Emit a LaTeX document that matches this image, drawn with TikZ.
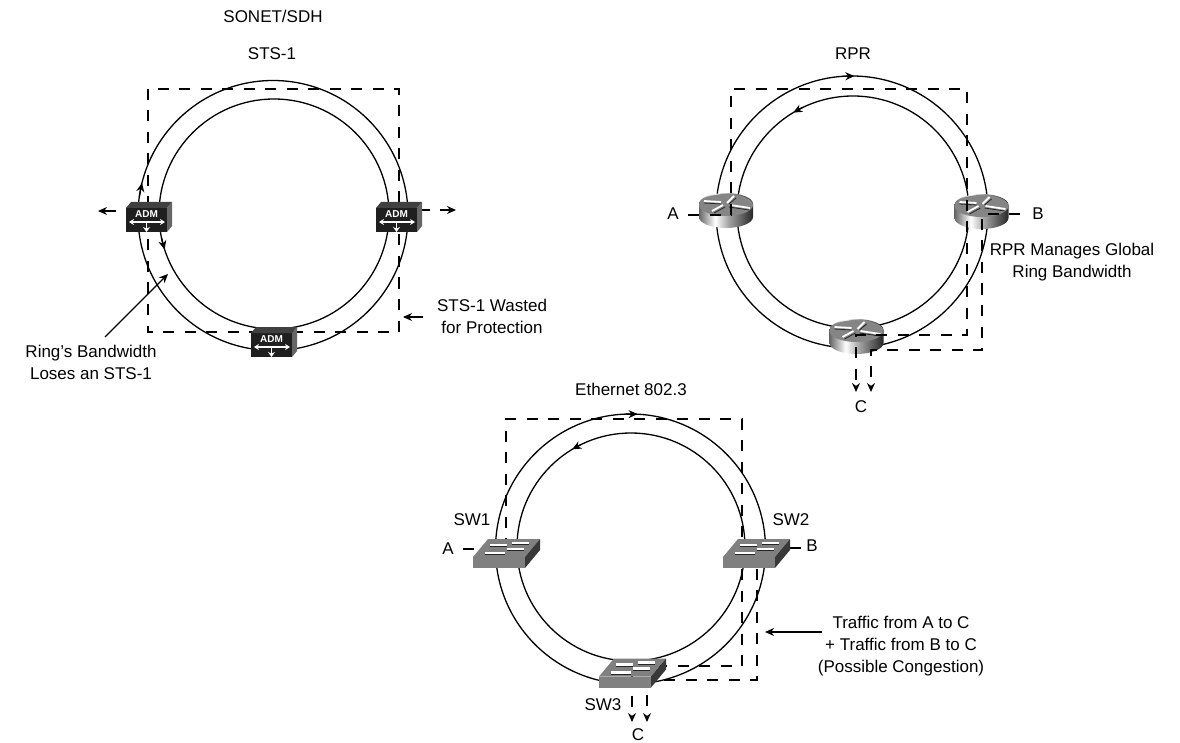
\documentclass[tikz,border=0pt]{standalone}
\usepackage{fontspec}
\setmainfont{Liberation Sans}
\usetikzlibrary{arrows.meta}
\pgfdeclarehorizontalshading{routerside}{100bp}{color(0bp)=(black!50); color(25bp)=(black!60); color(40bp)=(white); color(52bp)=(black!35); color(75bp)=(black!85); color(100bp)=(black!85)}
\begin{document}
\begin{tikzpicture}[
        x=1pt, y=-1pt,
        >={Stealth[length=9pt,width=8pt]},
        lbl/.style={font=\fontsize{17}{22}\selectfont, align=center, inner sep=0pt},
        ring/.style={draw, circle, line width=1.3pt, inner sep=0pt, outer sep=0pt},
        arr/.style={line width=1.3pt, ->},
        dashline/.style={line width=1.4pt, dash pattern=on 11pt off 10.5pt},
        adm/.pic={
            \fill[black!88] (0,0) rectangle (41,24);
            \fill[black!75] (0,0) -- (41,0) -- (46,-6) -- (5,-6) -- cycle;
            \fill[black!60] (41,0) -- (46,-6) -- (46,18) -- (41,24) -- cycle;
            \node[font=\fontsize{10}{10}\selectfont\bfseries, text=white, inner sep=0pt](-name) at (20.5,6.5){ADM};
            \draw[white, line width=1.7pt, {Stealth[length=5pt,width=6pt]}-{Stealth[length=5pt,width=6pt]}] (3,14) -- (39,14);
            \draw[white, line width=1.9pt, -{Stealth[length=5pt,width=7pt]}] (20.5,14) -- (20.5,24);
        },
        router/.pic={
            \shade[shading=routerside] (-27,-1) -- (-27,12) arc (180:360:27pt and 11pt) -- (27,-1) arc (0:180:27pt and 11pt) -- cycle;
            \fill[black!48] (0,0) ellipse (27pt and 11pt);
            \draw[black!85, line width=0.8pt] (-22,-2) -- (-5,-1) (-12,8) -- (-1,2) (3,-1) -- (10,-7) (3,2) -- (23,5);
            \draw[white, line width=1.8pt] (-22,-4) -- (-5,-3) (-14,6) -- (-3,0) (1,-2) -- (8,-9) (4,0) -- (24,3);
        },
        switch/.pic={
            \fill[black!50] (0,0) rectangle (52,11);
            \fill[black!50] (0,0) -- (52,0) -- (67,-18) -- (15,-18) -- cycle;
            \fill[black!78] (52,0) -- (67,-18) -- (67,-7) -- (52,11) -- cycle;
            \draw[black!85, line width=0.8pt] (17,-10.5) -- (34,-10.5) (39,-12.5) -- (56,-12.5) (12,-2.5) -- (32,-2.5) (34,-6.5) -- (51,-6.5);
            \draw[white, line width=2.2pt] (17,-12) -- (34,-12) (39,-14) -- (56,-14) (12,-4) -- (32,-4) (34,-8) -- (51,-8);
        },
    ]
    \path[use as bounding box] (0,0) rectangle (1180,743);

    \node[lbl](sonet) at (273,16){SONET/SDH};
    \node[lbl](sts) at (272,54){STS-1};
    \node[lbl](rpr) at (853,54){RPR};
    \node[lbl](ether) at (631,389){Ethernet 802.3};
    \node[lbl](wasted) at (492,316){STS-1 Wasted\\for Protection};
    \node[lbl](loses) at (91,362.5){Ring's Bandwidth\\Loses an STS-1};
    \node[lbl](manages) at (1072,262.5){RPR Manages Global\\Ring Bandwidth};
    \node[lbl](traffic) at (901,646){Traffic from A to C\\+ Traffic from B to C\\(Possible Congestion)};
    \node[lbl](la) at (673,214){A};
    \node[lbl](lb) at (1038,214){B};
    \node[lbl](lc) at (861,407){C};
    \node[lbl](sw1) at (472,520){SW1};
    \node[lbl](sw2) at (791,520){SW2};
    \node[lbl](sw3) at (603,705){SW3};
    \node[lbl](ea) at (448,549){A};
    \node[lbl](eb) at (812,546){B};
    \node[lbl](ec) at (638,734.5){C};

    \node[ring, minimum size=270pt](ring1out) at (273,215.5){};
    \node[ring, minimum size=230pt](ring1in) at (274,214){};
    \node[ring, minimum size=272pt](ring2out) at (852,212){};
    \node[ring, minimum size=232pt](ring2in) at (853,212){};
    \node[ring, minimum size=270pt](ring3out) at (630.5,549){};
    \node[ring, minimum size=228pt](ring3in) at (631,547){};

    \draw[arr] (ring1out.172) -- (ring1out.166);
    \draw[arr] (ring1in.192) -- (ring1in.198);
    \draw[arr] (ring2out.94) -- (ring2out.89);
    \draw[arr] (ring2in.116) -- (ring2in.121);
    \draw[arr] (ring3out.92) -- (ring3out.87);
    \draw[arr] (ring3in.116) -- (ring3in.121);

    \coordinate (box1a) at (148,89);
    \coordinate (box1b) at (399,332);
    \coordinate (admout1) at (116,211);
    \coordinate (admtip1) at (98,211);
    \coordinate (admout2) at (417,210);
    \coordinate (admout3) at (430,210);
    \coordinate (admout4) at (440,210);
    \coordinate (admtip2) at (456,210);
    \coordinate (ringgap) at (168,274);
    \coordinate (lossfoot) at (105,337);
    \coordinate (wastefoot) at (423,317);
    \coordinate (wastetip) at (403,317);
    \coordinate (trafficfoot) at (822,632);
    \coordinate (traffictip) at (765,632);

    \draw[dashline] (box1a) rectangle (box1b);
    \draw[line width=1.3pt] (admout2) -- (admout3);
    \draw[arr] (admout1) -- (admtip1);
    \draw[arr] (admout4) -- (admtip2);
    \draw[arr] (lossfoot) -- (ringgap);
    \draw[arr] (wastefoot) -- (wastetip);
    \draw[arr] (trafficfoot) -- (traffictip);

    \coordinate (ea0) at (463,549);
    \coordinate (eb0) at (801,548);
    \draw[dashline, ->] (ea0) -| (506,419) -| (742,666) -| (632,722);
    \draw[dashline, ->] (eb0) -| (757,680) -| (647,722);

    \pic (admleft) at (126,208) {adm};
    \pic (admright) at (376,208) {adm};
    \pic (admbottom) at (251,333) {adm};

    \pic (routera) at (726,205) {router};
    \pic (routerb) at (981.5,206) {router};
    \pic (routerc) at (856.5,331) {router};

    \coordinate (ra0) at (688,215);
    \coordinate (rb0) at (1020,214);
    \draw[dashline, ->] (ra0) -| (731,89) -| (967,335) -| (856,392);
    \draw[dashline, ->] (rb0) -| (982,350) -| (871,392);

    \pic (switcha) at (473,557) {switch};
    \pic (switchb) at (723,557) {switch};
    \pic (switchc) at (599,676.5) {switch};

\end{tikzpicture}
\end{document}
